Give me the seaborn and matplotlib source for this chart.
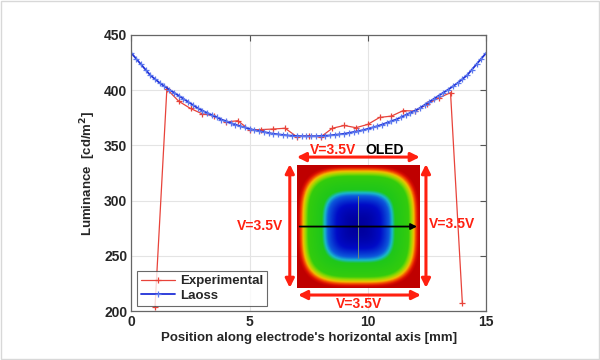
import numpy as np
import pandas as pd
import matplotlib
matplotlib.use("Agg")
import matplotlib.pyplot as plt
from matplotlib.patches import Rectangle
from matplotlib.colors import LinearSegmentedColormap
import seaborn as sns

# Experimental measurements (0.5 mm steps)
exp_x = [1.0, 1.5, 2.0, 2.5, 3.0, 3.5, 4.0, 4.5, 5.0, 5.5, 6.0, 6.5, 7.0, 7.5,
         8.0, 8.5, 9.0, 9.5, 10.0, 10.5, 11.0, 11.5, 12.0, 12.5, 13.0, 13.5, 14.0]
exp_y = [204, 401, 390, 383.4, 378.5, 376.7, 371.2, 372.3, 364, 364.3, 364.8, 365.5, 357.8, 358.7,
         357.5, 365.5, 368, 366, 369, 375.3, 376.5, 381.5, 381, 387.2, 393, 397.7, 207]

# Laoss simulation (0.2 mm steps, 0 .. 15 mm)
laoss_x = np.linspace(0, 15, 76)
laoss_y = [433.5, 428.5, 423.5, 418.5, 413.5, 410, 406.5, 403.5, 400.5, 397.8,
           395, 392.2, 389.4, 386.6, 383.8, 381.5, 379.5, 377.5, 375.5, 373.4,
           372, 370.4, 368.8, 367.4, 366.2, 365, 363.8, 362.9, 362.1, 361.3,
           360.5, 360, 359.5, 359, 358.7, 358.5, 358.3, 358.2,
           358.2, 358.3, 358.5, 358.7, 359, 359.5, 360, 360.5,
           361.3, 362.1, 362.9, 363.8, 365, 366.2, 367.4, 368.8, 370.4, 372,
           373.4, 375.5, 377.5, 379.5, 381.5, 383.8, 386.6, 389.4, 392.2, 395,
           397.8, 400.5, 403.5, 406.5, 410, 413.5, 418.5, 423.5, 428.5, 433.5]

x_ticks = [0, 5, 10, 15]
y_ticks = [200, 250, 300, 350, 400, 450]

# inset colour scale: (field value, colour) of the simulated OLED luminance map
inset_stops = [0.0, 0.15, 0.29, 0.35, 0.41, 0.72, 0.79, 0.85, 0.9, 0.95, 1.0]
inset_colors = [(0, 0, 0.62), (0, 0.04, 0.78), (0.05, 0.35, 0.86), (0.1, 0.72, 0.8),
                (0.12, 0.78, 0.1), (0.2, 0.8, 0.05), (0.6, 0.85, 0.0), (0.95, 0.75, 0.0),
                (0.95, 0.3, 0.0), (0.85, 0.05, 0.0), (0.75, 0, 0)]

sns.set_theme(style="white")
plt.rcParams['font.family'] = ['Liberation Sans', 'DejaVu Sans']
plt.rcParams['font.weight'] = 'bold'

fig = plt.figure(figsize=(6, 3.6), dpi=100)
ax = fig.add_axes([0.219, 0.136, 0.591, 0.767])

red = '#e8433a'
blue = '#2030d8'

sns.lineplot(x=exp_x, y=exp_y, ax=ax, color=red, lw=0.9, marker='+', markersize=5,
             markeredgewidth=0.9, markeredgecolor=red, label='Experimental')
sns.lineplot(x=laoss_x, y=laoss_y, ax=ax, color=blue, lw=1.3, marker='+', markersize=4.5,
             markeredgewidth=0.9, markeredgecolor='#5c78ee', label='Laoss')

# OLED inset (rounded-square luminance map)
u = np.linspace(-1, 1, 240)
U, V = np.meshgrid(u, u)
r = (np.abs(U) ** 3.5 + np.abs(V) ** 3.5) ** (1 / 3.5)
field = np.clip(1 - np.cos(np.pi * np.clip(r, 0, 1) / 2), 0, 1)
oled_cmap = LinearSegmentedColormap.from_list('oled', list(zip(inset_stops, inset_colors)))
ax.imshow(field, cmap=oled_cmap, vmin=0, vmax=1, extent=[7.0, 12.2, 221.2, 332.5],
          aspect='auto', origin='lower', zorder=3)
ax.plot([9.58, 9.58], [248, 304.5], color='#6f8f7a', lw=0.7, zorder=4)
ax.annotate('', xy=(12.2, 276.5), xytext=(7.0, 276.5),
            arrowprops=dict(arrowstyle='-|>', color='black', lw=1.3, mutation_scale=9), zorder=5)

arr = dict(arrowstyle='<|-|>', color='#ff2010', lw=2.2, mutation_scale=13, shrinkA=0, shrinkB=0)
ax.annotate('', xy=(7.0, 339.4), xytext=(12.2, 339.4), arrowprops=arr, zorder=5)
ax.annotate('', xy=(7.05, 214.5), xytext=(12.25, 214.5), arrowprops=arr, zorder=5)
ax.annotate('', xy=(6.7, 333), xytext=(6.7, 221), arrowprops=arr, zorder=5)
ax.annotate('', xy=(12.46, 333), xytext=(12.46, 221), arrowprops=arr, zorder=5)

tk = dict(color='#ff2010', fontsize=10, fontweight='bold', zorder=6)
ax.text(8.52, 345.5, 'V=3.5V', ha='center', va='center', **tk)
ax.text(10.7, 345.5, 'OLED', ha='center', va='center', color='black', fontsize=10,
        fontweight='bold', zorder=6)
ax.text(9.62, 206.5, 'V=3.5V', ha='center', va='center', **tk)
ax.text(6.4, 277.3, 'V=3.5V', ha='right', va='center', **tk)
ax.text(12.6, 279, 'V=3.5V', ha='left', va='center', **tk)

ax.set_xlim(0, 15)
ax.set_ylim(200, 450)
ax.set_xticks(x_ticks)
ax.set_yticks(y_ticks)
ax.grid(True, color='#e4e4e4', lw=0.8)
ax.set_axisbelow(True)
ax.tick_params(direction='in', length=4, width=0.8, color='#555555', top=True, right=True,
               labelsize=10, pad=3)
for lbl in ax.get_xticklabels() + ax.get_yticklabels():
    lbl.set_fontweight('bold')
for s in ax.spines.values():
    s.set_color('#666666')
    s.set_linewidth(0.9)

ax.set_xlabel("Position along electrode's horizontal axis [mm]", fontsize=9.5,
              fontweight='bold', labelpad=2)
ax.set_ylabel('Luminance  [cd/m$^2$]', fontsize=9.5, fontweight='bold', labelpad=4)

leg = ax.legend(loc='lower left', bbox_to_anchor=(0.015, 0.02), frameon=True, fancybox=False,
                prop={'size': 9.5, 'weight': 'bold'}, handlelength=2.6, borderpad=0.3,
                labelspacing=0.15, handletextpad=0.4, borderaxespad=0)
leg.get_frame().set_edgecolor('#444444')
leg.get_frame().set_linewidth(0.8)
leg.set_zorder(7)

fig.patches.append(Rectangle((0.001, 0.002), 0.997, 0.995, transform=fig.transFigure,
                             fill=False, edgecolor='#d8d8d8', lw=1))

fig.savefig('out.png', dpi=100)
